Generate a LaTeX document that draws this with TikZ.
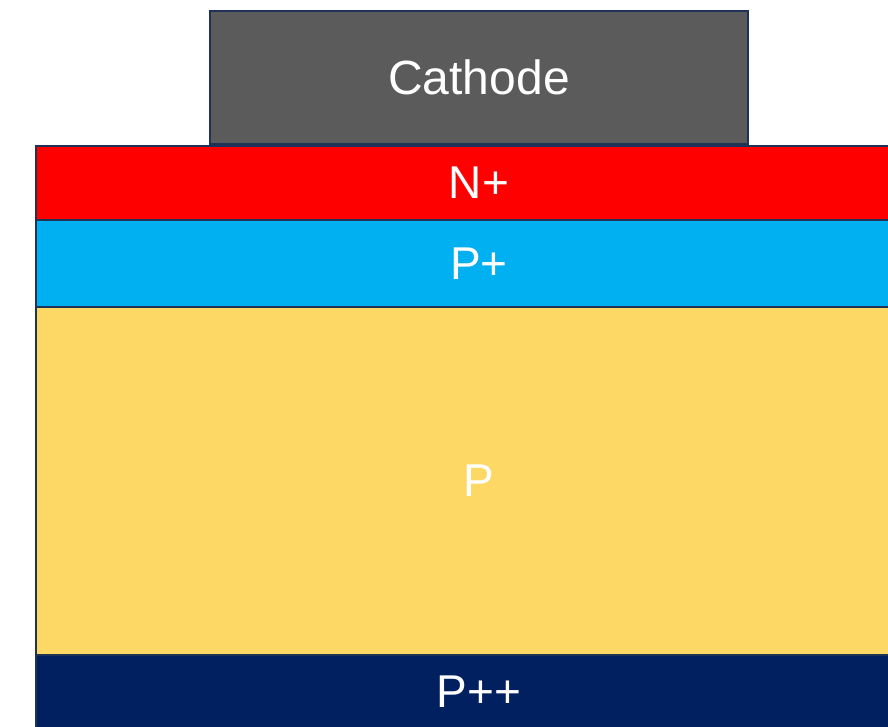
\documentclass[tikz,border=0pt]{standalone}
\usepackage{fontspec}
\setmainfont{Liberation Sans}
\definecolor{edgeblue}{HTML}{1F3358}
\definecolor{cathodegray}{HTML}{5B5B5B}
\definecolor{nplusred}{HTML}{FF0000}
\definecolor{pplusblue}{HTML}{00B0F0}
\definecolor{pyellow}{HTML}{FDD865}
\definecolor{ppnavy}{HTML}{002060}
\begin{document}
\begin{tikzpicture}[x=1pt,y=-1pt,
  layer/.style={draw=edgeblue, line width=2.8pt, rectangle, inner sep=0pt,
    text=white, font=\fontsize{46}{52}\selectfont, minimum width=886pt},
  electrode/.style={layer, minimum width=538pt, font=\fontsize{48}{54}\selectfont}]
  \useasboundingbox (0,0) rectangle (888,727);
  \clip (0,0) rectangle (888,727);
  % semiconductor stack, top to bottom
  \node[layer, fill=nplusred,  minimum height=74pt]  (nplus)  at (479,183)   {N+};
  \node[layer, fill=pplusblue, minimum height=87pt]  (pplus)  at (479,263.5) {P+};
  \node[layer, fill=pyellow,   minimum height=348pt] (pbody)  at (479,481)   {P};
  \node[layer, fill=ppnavy,    minimum height=74pt]  (ppplus) at (479,692)   {P++};
  % metal contact on top
  \node[electrode, fill=cathodegray, minimum height=133pt] (cathode) at (479,77.5) {Cathode};
\end{tikzpicture}
\end{document}
